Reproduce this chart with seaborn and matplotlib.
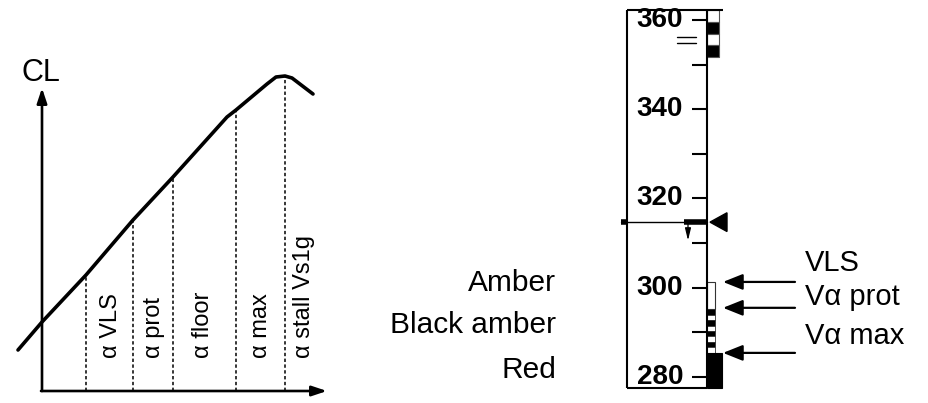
# IMPORT LIBRARIES
import numpy as np
import seaborn as sns
import matplotlib.pyplot as plt
from matplotlib.patches import Rectangle, Polygon

# CL CURVE DATA (alpha and CL in arbitrary units)
alpha = [-2.4, 0.0, 4.4, 9.1, 13.1, 18.5, 19.4, 22.5, 23.4, 24.3, 25.0, 27.1]
cl = [0.41, 0.69, 1.16, 1.71, 2.14, 2.74, 2.81, 3.07, 3.14, 3.15, 3.13, 2.97]
alpha_marks = [4.4, 9.1, 13.1, 19.4, 24.3]
alpha_labels = ['α VLS', 'α prot', 'α floor', 'α max', 'α stall Vs1g']
label_alpha = [6.9, 11.2, 16.1, 21.9, 26.2]

# SPEED TAPE DATA (kt)
major_ticks = [280, 300, 320, 340, 360]
minor_ticks = [290, 310, 330, 350]
tape_bottom = 277.5
tape_top = 362.2
current_speed = 314.7
trend_speed = 310.6
vls = 301.3
v_alpha_prot = 295.5
v_alpha_max = 285.4
checker_top = 295.2
top_bands = [362.2, 359.55, 356.86, 354.40, 351.71]
overspeed_marks = [356.2, 354.85]
arrow_speeds = [vls, v_alpha_prot, v_alpha_max]
arrow_labels = ['VLS', 'Vα prot', 'Vα max']
label_speeds = [305.5, 297.9, 289.2]
colour_labels = ['Amber', 'Black amber', 'Red']
colour_speeds = [301.1, 291.7, 281.6]

# STYLE
sns.set_theme(style='white')
plt.rcParams['font.family'] = ['Liberation Sans', 'DejaVu Sans']
plt.rcParams['text.color'] = 'black'

fig = plt.figure(figsize=(9.29, 4.03), dpi=100)

# LEFT PANEL: CL vs ALPHA
ax1 = fig.add_axes([0, 0, 340 / 929, 1])
ax1.set_xlim(-4.2, 29.8)
ax1.set_ylim(-0.12, 3.91)
ax1.axis('off')

sns.lineplot(x=alpha, y=cl, ax=ax1, color='black', linewidth=2.6, sort=False)
tops = np.interp(alpha_marks, alpha, cl)
ax1.vlines(alpha_marks, 0, tops, colors='black', linewidth=1.1,
           linestyles=(0, (2.2, 1.6)))

axis_arrow = dict(arrowstyle='-|>,head_length=0.9,head_width=0.3',
                  color='black', lw=1.9, mutation_scale=10, shrinkA=0, shrinkB=0)
ax1.annotate('', xy=(0, 3.03), xytext=(0, 0), arrowprops=axis_arrow)
ax1.annotate('', xy=(28.5, 0), xytext=(-0.1, 0), arrowprops=axis_arrow)
ax1.text(-0.1, 3.18, 'CL', ha='center', va='center', fontsize=22)

for x, lab in zip(label_alpha, alpha_labels):
    ax1.text(x, 0.33, lab, rotation=90, ha='center', va='bottom', fontsize=17)

# RIGHT PANEL: SPEED TAPE
ax2 = fig.add_axes([340 / 929, 0, 589 / 929, 1])
ax2.set_xlim(340, 929)
ax2.set_ylim(274.17, 364.48)
ax2.axis('off')

line_kw = dict(color='black', linewidth=1.5, solid_capstyle='butt')
ax2.plot([627, 627], [tape_bottom, tape_top], **line_kw)
ax2.plot([627, 707], [tape_bottom, tape_bottom], **line_kw)
ax2.plot([627, 723], [tape_top, tape_top], **line_kw)
ax2.plot([707, 707], [tape_bottom, tape_top], **line_kw)

for t in major_ticks + minor_ticks:
    ax2.plot([692, 707], [t, t], **line_kw)
for t in major_ticks:
    ax2.text(683, t, str(t), ha='right', va='center', fontsize=20, weight='bold')

for m in overspeed_marks:
    ax2.plot([677, 696], [m, m], color='black', linewidth=1.0)

# top bands
for i in range(len(top_bands) - 1):
    fc = 'white' if i % 2 == 0 else 'black'
    ax2.add_patch(Rectangle((707, top_bands[i + 1]), 12, top_bands[i] - top_bands[i + 1],
                            facecolor=fc, edgecolor='#555555', linewidth=0.8))

# amber strip
ax2.add_patch(Rectangle((707, checker_top), 8, vls - checker_top,
                        facecolor='white', edgecolor='#333333', linewidth=0.8))
# black/amber checker
edges = np.linspace(checker_top, v_alpha_max, 9)
for i in range(8):
    fc = 'black' if i % 2 == 0 else 'white'
    ax2.add_patch(Rectangle((707, edges[i + 1]), 8, edges[i] - edges[i + 1],
                            facecolor=fc, edgecolor='#333333', linewidth=0.6))
# red strip
ax2.add_patch(Rectangle((707, tape_bottom), 15, v_alpha_max - tape_bottom,
                        facecolor='black', edgecolor='black', linewidth=0.8))

# current speed reference
ax2.plot([621, 707], [current_speed, current_speed], color='black', linewidth=1.0)
ax2.plot([684, 707], [current_speed, current_speed], color='black', linewidth=4,
         solid_capstyle='butt')
ax2.plot([621, 627], [current_speed, current_speed], color='black', linewidth=4,
         solid_capstyle='butt')
ax2.add_patch(Polygon([(710, current_speed), (727, current_speed + 2.1),
                       (727, current_speed - 2.1)], closed=True, color='black'))
ax2.annotate('', xy=(688, trend_speed), xytext=(688, current_speed - 0.4),
             arrowprops=dict(arrowstyle='-|>,head_length=0.9,head_width=0.22',
                             color='black', lw=0.9, mutation_scale=8,
                             shrinkA=0, shrinkB=0))

# speed arrows and labels
spd_arrow = dict(arrowstyle='-|>,head_length=1.0,head_width=0.4',
                 color='black', lw=1.6, mutation_scale=12, shrinkA=0, shrinkB=0)
for s in arrow_speeds:
    ax2.annotate('', xy=(723, s), xytext=(795, s), arrowprops=spd_arrow)
for s, lab in zip(label_speeds, arrow_labels):
    ax2.text(805, s, lab, ha='left', va='center', fontsize=21)
for s, lab in zip(colour_speeds, colour_labels):
    ax2.text(556, s, lab, ha='right', va='center', fontsize=21.5)

plt.savefig('out.png', dpi=100)
plt.close()
